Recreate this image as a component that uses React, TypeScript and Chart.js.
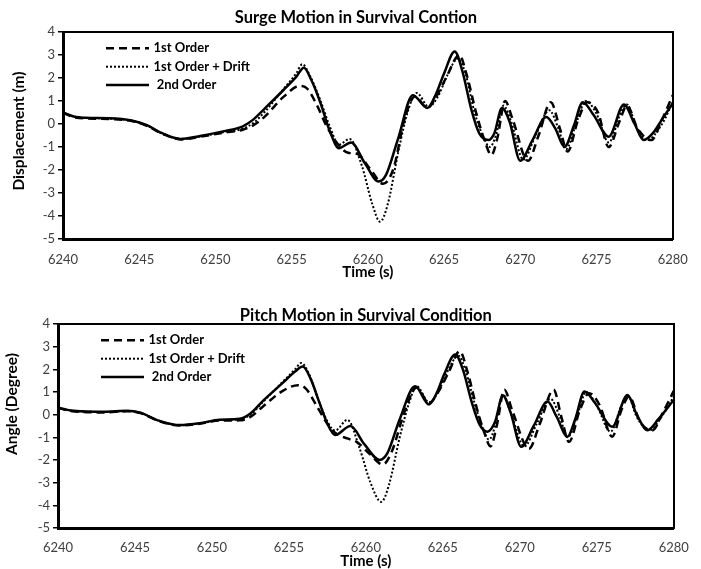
import React, { useEffect, useRef } from 'react';
import { Chart, registerables } from 'chart.js';

Chart.register(...registerables);

// ---------- shared axis / legend content ----------
const timeTicks = [6240, 6245, 6250, 6255, 6260, 6265, 6270, 6275, 6280];
const valueTicks = [-5, -4, -3, -2, -1, 0, 1, 2, 3, 4];
const seriesLabels = ['1st Order', '1st Order + Drift', ' 2nd Order'];

// ---------- Surge (top chart) ----------
const surgeFirstT = [6240, 6240.7, 6241.5, 6243, 6244.5, 6245.5, 6246.5, 6247.8, 6249, 6250.5, 6251.8, 6252.5, 6253.2, 6254.5, 6255.5, 6256.0, 6256.6, 6257.3, 6258.0, 6258.7, 6259.3, 6260.2, 6261.0, 6261.7, 6262.4, 6263.1, 6263.9, 6264.5, 6265.2, 6266.0, 6266.5, 6267.1, 6267.7, 6268.1, 6268.5, 6269.0, 6269.5, 6270.5, 6271.2, 6272.0, 6272.6, 6273.1, 6273.8, 6274.4, 6275.1, 6275.8, 6276.5, 6277.0, 6277.7, 6278.6, 6279.3, 6280];
const surgeFirst = [0.48, 0.30, 0.24, 0.22, 0.13, -0.08, -0.42, -0.67, -0.55, -0.38, -0.25, -0.05, 0.30, 1.20, 1.65, 1.55, 0.90, -0.10, -0.85, -1.25, -1.30, -2.00, -2.60, -1.90, 0.20, 1.20, 0.70, 1.20, 2.10, 3.00, 2.10, 0.50, -0.80, -1.35, -0.60, 1.00, 0.20, -1.60, -0.50, 0.95, -0.20, -1.20, 0.20, 0.95, 0.50, -1.00, 0.10, 0.80, -0.20, -0.70, 0.20, 1.25];

const surgeDriftT = [6240, 6240.7, 6241.5, 6243, 6244.5, 6245.5, 6246.5, 6247.7, 6249, 6250.5, 6251.8, 6252.5, 6253.2, 6254.5, 6255.3, 6255.7, 6256.2, 6256.9, 6257.5, 6258.1, 6258.8, 6259.6, 6260.3, 6260.8, 6261.3, 6262.0, 6262.6, 6263.2, 6264.0, 6264.6, 6265.2, 6265.9, 6266.4, 6267.0, 6267.6, 6268.0, 6268.4, 6268.9, 6269.4, 6270.2, 6271.0, 6271.9, 6272.5, 6273.0, 6273.7, 6274.3, 6275.0, 6275.8, 6276.6, 6277.0, 6277.6, 6278.3, 6279.3, 6280];
const surgeDrift = [0.50, 0.32, 0.26, 0.24, 0.14, -0.06, -0.42, -0.66, -0.54, -0.36, -0.20, 0.05, 0.50, 1.55, 2.20, 2.60, 2.10, 1.00, -0.10, -0.90, -0.65, -1.80, -3.50, -4.25, -3.50, -1.20, 0.50, 1.35, 0.75, 1.20, 2.10, 2.85, 2.20, 0.50, -0.60, -1.00, -0.50, 0.80, 0.10, -1.55, -0.50, 0.60, -0.20, -1.10, 0.10, 1.00, 0.45, -0.80, 0.50, 0.85, -0.10, -0.70, 0.00, 0.95];

const surgeSecondT = [6240, 6240.7, 6241.5, 6243, 6244.5, 6245.5, 6246.5, 6247.7, 6249, 6250.5, 6251.8, 6252.5, 6253.2, 6254.5, 6255.3, 6255.8, 6256.3, 6256.9, 6257.5, 6258.1, 6258.9, 6259.8, 6260.7, 6261.2, 6262.0, 6262.95, 6263.9, 6264.4, 6265.0, 6265.7, 6266.2, 6266.8, 6267.3, 6267.9, 6268.3, 6268.8, 6269.3, 6270.0, 6270.8, 6271.7, 6272.3, 6272.9, 6273.5, 6274.1, 6274.8, 6275.8, 6276.8, 6277.5, 6278.1, 6278.7, 6279.3, 6280];
const surgeSecond = [0.50, 0.33, 0.27, 0.25, 0.15, -0.05, -0.40, -0.65, -0.52, -0.32, -0.10, 0.20, 0.65, 1.50, 2.05, 2.45, 1.90, 0.90, -0.30, -1.05, -0.80, -1.70, -2.50, -2.20, -0.60, 1.25, 0.70, 1.20, 2.20, 3.15, 2.30, 0.60, -0.40, -0.70, -0.40, 0.70, 0.10, -1.60, -0.70, 0.30, -0.20, -1.00, -0.10, 0.95, 0.40, -0.55, 0.85, 0.00, -0.70, -0.40, 0.20, 0.90];

// ---------- Pitch (bottom chart) ----------
const pitchFirstT = [6240, 6240.7, 6241.5, 6243, 6244.5, 6245.3, 6246.5, 6247.9, 6249.2, 6250.5, 6251.8, 6252.5, 6253.3, 6254.6, 6255.6, 6256.1, 6256.8, 6257.4, 6258.0, 6258.8, 6259.4, 6260.2, 6261.1, 6261.7, 6262.5, 6263.3, 6264.1, 6264.7, 6265.4, 6266.1, 6266.6, 6267.2, 6267.7, 6268.1, 6268.5, 6269.0, 6269.5, 6270.6, 6271.3, 6272.2, 6272.7, 6273.2, 6273.9, 6274.5, 6275.2, 6276.0, 6276.6, 6277.1, 6277.8, 6278.6, 6279.3, 6280];
const pitchFirst = [0.30, 0.18, 0.12, 0.10, 0.15, 0.08, -0.27, -0.48, -0.40, -0.26, -0.25, -0.10, 0.35, 1.05, 1.30, 1.15, 0.40, -0.30, -0.80, -1.05, -1.20, -1.70, -2.20, -1.60, 0.10, 1.20, 0.50, 1.00, 1.90, 2.80, 1.90, 0.30, -0.80, -1.40, -0.50, 1.10, 0.20, -1.50, -0.40, 1.10, -0.10, -1.20, 0.20, 0.95, 0.40, -0.97, 0.20, 0.80, -0.30, -0.70, 0.10, 1.05];

const pitchDriftT = [6240, 6240.7, 6241.5, 6243, 6244.5, 6245.3, 6246.5, 6247.9, 6249.2, 6250.5, 6251.8, 6252.5, 6253.3, 6254.6, 6255.4, 6255.8, 6256.3, 6256.9, 6257.5, 6258.0, 6258.8, 6259.6, 6260.3, 6261.0, 6261.5, 6262.2, 6262.8, 6263.3, 6264.1, 6264.7, 6265.3, 6266.0, 6266.5, 6267.1, 6267.6, 6268.0, 6268.4, 6268.9, 6269.4, 6270.3, 6271.1, 6272.0, 6272.6, 6273.1, 6273.8, 6274.3, 6275.0, 6275.9, 6276.6, 6277.0, 6277.6, 6278.4, 6279.3, 6280];
const pitchDrift = [0.31, 0.19, 0.14, 0.12, 0.16, 0.09, -0.26, -0.47, -0.39, -0.24, -0.21, 0.00, 0.55, 1.45, 2.00, 2.28, 1.80, 0.70, -0.30, -0.70, -0.23, -1.50, -3.00, -3.85, -3.10, -1.00, 0.50, 1.25, 0.55, 1.00, 1.90, 2.60, 1.90, 0.40, -0.60, -1.10, -0.50, 0.90, 0.10, -1.40, -0.40, 0.70, -0.10, -1.00, 0.10, 1.00, 0.40, -0.75, 0.40, 0.85, -0.10, -0.70, 0.00, 0.80];

const pitchSecondT = [6240, 6240.7, 6241.5, 6243, 6244.5, 6245.3, 6246.5, 6247.9, 6249.2, 6250.5, 6251.8, 6252.5, 6253.3, 6254.6, 6255.4, 6255.9, 6256.4, 6257.0, 6257.5, 6258.0, 6259.0, 6259.9, 6260.9, 6261.4, 6262.2, 6263.2, 6264.1, 6264.6, 6265.1, 6265.8, 6266.3, 6266.9, 6267.4, 6267.9, 6268.4, 6268.9, 6269.4, 6270.1, 6270.9, 6271.8, 6272.4, 6273.1, 6273.6, 6274.2, 6274.9, 6276.0, 6277.0, 6277.6, 6278.3, 6279.0, 6280];
const pitchSecond = [0.32, 0.20, 0.15, 0.13, 0.17, 0.10, -0.25, -0.46, -0.38, -0.22, -0.18, 0.05, 0.60, 1.40, 1.90, 2.12, 1.60, 0.50, -0.40, -0.90, -0.50, -1.30, -2.00, -1.70, -0.20, 1.25, 0.45, 0.95, 1.80, 2.65, 2.00, 0.50, -0.45, -0.75, -0.30, 0.85, 0.10, -1.42, -0.50, 0.58, -0.10, -0.97, -0.20, 1.02, 0.50, -0.53, 0.87, 0.00, -0.68, -0.20, 0.65];

// ---------- helpers ----------
const FONT = 'Lato';

// Legend drawn inside the plot area (top-left), from the datasets' own labels and styles.
const innerLegend = {
  id: 'innerLegend',
  afterDatasetsDraw(chart: any, _args: any, opts: any) {
    const { ctx, chartArea } = chart;
    const x0 = chartArea.left + opts.x;
    chart.data.datasets.forEach((ds: any, i: number) => {
      const cy = chartArea.top + opts.y + i * opts.step;
      ctx.save();
      ctx.strokeStyle = ds.borderColor;
      ctx.lineWidth = ds.borderWidth;
      ctx.setLineDash(ds.borderDash || []);
      ctx.beginPath();
      ctx.moveTo(x0, cy);
      ctx.lineTo(x0 + opts.w, cy);
      ctx.stroke();
      ctx.setLineDash([]);
      ctx.font = `bold ${opts.size}px ${FONT}`;
      ctx.fillStyle = '#000';
      ctx.textAlign = 'left';
      ctx.textBaseline = 'middle';
      ctx.fillText(ds.label, x0 + opts.w + opts.gap, cy);
      ctx.restore();
    });
  },
};

const sideTitle = {
  id: 'sideTitle',
  afterDraw(chart: any, _args: any, opts: any) {
    const ctx = chart.ctx;
    ctx.save();
    ctx.translate(opts.x, opts.y);
    ctx.rotate(-Math.PI / 2);
    ctx.font = `bold ${opts.size}px ${FONT}`;
    ctx.fillStyle = '#000';
    ctx.textAlign = 'center';
    ctx.textBaseline = 'middle';
    ctx.fillText(opts.text, 0, 0);
    ctx.restore();
  },
};

function pairs(t: number[], v: number[]) {
  return t.map((x, i) => ({ x, y: v[i] }));
}

function buildConfig(p: any) {
  const styles = [
    { borderDash: [8, 5], borderWidth: 2.5 },
    { borderDash: [2, 2], borderWidth: 2 },
    { borderDash: [], borderWidth: 2.5 },
  ];
  const datasets = p.series.map((s: any, i: number) => ({
    label: seriesLabels[i],
    data: pairs(s[0], s[1]),
    borderColor: '#000',
    backgroundColor: '#000',
    borderWidth: styles[i].borderWidth,
    borderDash: styles[i].borderDash,
    pointRadius: 0,
    fill: false,
    cubicInterpolationMode: 'monotone',
  }));
  const tickFont = { family: FONT, size: 13 };
  return {
    type: 'line',
    data: { datasets },
    options: {
      responsive: false,
      animation: false,
      events: [],
      layout: { padding: { left: p.padL, right: p.padR, top: 0, bottom: 0 } },
      plugins: {
        title: {
          display: true,
          text: p.title,
          color: '#000',
          fullSize: p.titleFull,
          font: { family: FONT, size: p.titleSize, weight: 'bold', lineHeight: 1.2 },
          padding: p.titlePad,
        },
        legend: { display: false },
        tooltip: { enabled: false },
        innerLegend: { x: 43, y: 16.3, step: 18.4, w: 43, gap: 4.5, size: 13 },
        sideTitle: { text: p.yTitle, x: p.yTitleX, y: p.yTitleY, size: 15.5 },
      },
      scales: {
        x: {
          type: 'linear',
          position: 'bottom',
          min: 6240,
          max: 6280,
          afterBuildTicks: (s: any) => { s.ticks = timeTicks.map((v) => ({ value: v })); },
          afterFit: (s: any) => { s.height = p.xHeight; },
          ticks: { color: '#404040', font: tickFont, padding: p.xTickPad, maxRotation: 0, autoSkip: false, callback: (v: any) => String(v) },
          grid: { drawOnChartArea: false, drawTicks: false },
          border: { display: true, color: '#000', width: 3 },
          title: { display: true, text: 'Time (s)', color: '#000', font: { family: FONT, size: 15, weight: 'bold', lineHeight: 1 }, padding: { top: 0, bottom: p.xTitlePadBottom } },
        },
        y: {
          type: 'linear',
          position: 'left',
          min: -5,
          max: 4,
          afterBuildTicks: (s: any) => { s.ticks = valueTicks.map((v) => ({ value: v })); },
          afterFit: (s: any) => { s.width = p.yWidth; },
          ticks: { color: '#404040', font: tickFont, padding: 3, callback: (v: any) => String(v) },
          grid: { drawOnChartArea: false, drawTicks: true, tickLength: 5, color: '#000', lineWidth: 1.5 },
          border: { display: true, color: '#000', width: 3 },
        },
        x2: {
          type: 'linear',
          position: 'top',
          min: 6240,
          max: 6280,
          afterFit: (s: any) => { s.height = 0; },
          ticks: { display: false },
          grid: { drawOnChartArea: false, drawTicks: false },
          border: { display: true, color: '#000', width: 2 },
        },
        y2: {
          type: 'linear',
          position: 'right',
          min: -5,
          max: 4,
          afterFit: (s: any) => { s.width = 0; },
          ticks: { display: false },
          grid: { drawOnChartArea: false, drawTicks: false },
          border: { display: true, color: '#000', width: 2 },
        },
      },
    },
    plugins: [innerLegend, sideTitle],
  };
}

const surgeParams = {
  title: 'Surge Motion in Survival Contion',
  yTitle: 'Displacement (m)',
  series: [[surgeFirstT, surgeFirst], [surgeDriftT, surgeDrift], [surgeSecondT, surgeSecond]],
  padL: 29, padR: 18, yWidth: 34, xHeight: 46,
  titleFull: true, titleSize: 16.5, titlePad: { top: 7.6, bottom: 4.6 },
  xTickPad: 13.2, xTitlePadBottom: 5,
  yTitleX: 19, yTitleY: 131,
};

const pitchParams = {
  title: 'Pitch Motion in Survival Condition',
  yTitle: 'Angle (Degree)',
  series: [[pitchFirstT, pitchFirst], [pitchDriftT, pitchDrift], [pitchSecondT, pitchSecond]],
  padL: 24, padR: 17, yWidth: 34, xHeight: 41,
  titleFull: false, titleSize: 16.5, titlePad: { top: 20.5, bottom: -1.3 },
  xTickPad: 12.2, xTitlePadBottom: 0,
  yTitleX: 12, yTitleY: 119,
};

function MotionChart({ params, top, height }: { params: any; top: number; height: number }) {
  const ref = useRef<HTMLCanvasElement | null>(null);
  useEffect(() => {
    if (!ref.current) return;
    const chart = new Chart(ref.current, buildConfig(params) as any);
    return () => chart.destroy();
  }, [params]);
  return (
    <canvas
      ref={ref}
      width={701}
      height={height}
      style={{ position: 'absolute', left: 0, top, width: 701, height, display: 'block' }}
    />
  );
}

export default function App() {
  return (
    <div style={{ position: 'absolute', left: 0, top: 0, width: 701, height: 569, background: '#fff' }}>
      <MotionChart params={surgeParams} top={0} height={285} />
      <MotionChart params={pitchParams} top={285} height={284} />
    </div>
  );
}
